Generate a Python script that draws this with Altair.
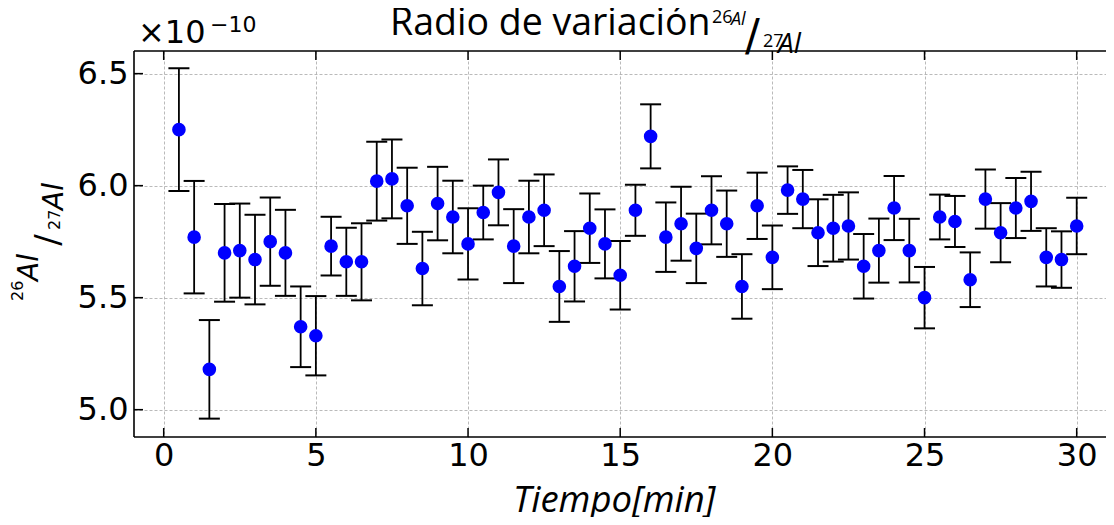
import altair as alt
import pandas as pd

# ---- data (ratio in units of 1e-10) ----
tiempo = [0.5, 1.0, 1.5, 2.0, 2.5, 3.0, 3.5, 4.0, 4.5, 5.0,
          5.5, 6.0, 6.5, 7.0, 7.5, 8.0, 8.5, 9.0, 9.5, 10.0,
          10.5, 11.0, 11.5, 12.0, 12.5, 13.0, 13.5, 14.0, 14.5, 15.0,
          15.5, 16.0, 16.5, 17.0, 17.5, 18.0, 18.5, 19.0, 19.5, 20.0,
          20.5, 21.0, 21.5, 22.0, 22.5, 23.0, 23.5, 24.0, 24.5, 25.0,
          25.5, 26.0, 26.5, 27.0, 27.5, 28.0, 28.5, 29.0, 29.5, 30.0]
ratio = [6.25, 5.77, 5.18, 5.70, 5.71, 5.67, 5.75, 5.70, 5.37, 5.33,
         5.73, 5.66, 5.66, 6.02, 6.03, 5.91, 5.63, 5.92, 5.86, 5.74,
         5.88, 5.97, 5.73, 5.86, 5.89, 5.55, 5.64, 5.81, 5.74, 5.60,
         5.89, 6.22, 5.77, 5.83, 5.72, 5.89, 5.83, 5.55, 5.91, 5.68,
         5.98, 5.94, 5.79, 5.81, 5.82, 5.64, 5.71, 5.90, 5.71, 5.50,
         5.86, 5.84, 5.58, 5.94, 5.79, 5.90, 5.93, 5.68, 5.67, 5.82]
error = [0.274, 0.251, 0.220, 0.218, 0.210, 0.200, 0.197, 0.192, 0.180, 0.177,
         0.131, 0.152, 0.172, 0.176, 0.176, 0.170, 0.164, 0.164, 0.162, 0.159,
         0.120, 0.147, 0.165, 0.162, 0.160, 0.158, 0.157, 0.155, 0.154, 0.153,
         0.114, 0.143, 0.155, 0.165, 0.155, 0.152, 0.148, 0.144, 0.148, 0.142,
         0.106, 0.130, 0.149, 0.149, 0.150, 0.144, 0.143, 0.143, 0.142, 0.137,
         0.100, 0.114, 0.122, 0.132, 0.132, 0.134, 0.132, 0.130, 0.126, 0.126]

x_ticks = [0, 5, 10, 15, 20, 25, 30]
y_ticks = [5.0, 5.5, 6.0, 6.5]

df = pd.DataFrame({"t": tiempo, "r": ratio, "e": error})
df["lo"] = df["r"] - df["e"]
df["hi"] = df["r"] + df["e"]

W, H = 972, 386
X_DOMAIN = [-0.976, 30.963]
Y_DOMAIN = [4.878, 6.601]

xs = alt.Scale(domain=X_DOMAIN, nice=False, zero=False)
ys = alt.Scale(domain=Y_DOMAIN, nice=False, zero=False)

TICKFONT = "DejaVu Sans"
GRID = dict(grid=True, gridColor="#a8a8a8", gridDash=[3, 2], gridWidth=0.8,
            ticks=False, domain=False, labelFont=TICKFONT, labelFontSize=32,
            labelColor="black", title=None)

x_enc = alt.X("t:Q", scale=xs,
              axis=alt.Axis(values=x_ticks, labelPadding=3, format="d", **GRID))
y_enc = alt.Y("lo:Q", scale=ys,
              axis=alt.Axis(values=y_ticks, labelPadding=6, format=".1f", **GRID))

base = alt.Chart(df)

bars = base.mark_rule(color="black", strokeWidth=1.8).encode(
    x=x_enc, y=y_enc, y2="hi:Q")
caps_lo = base.mark_rule(color="black", strokeWidth=2, xOffset=-10.5, x2Offset=10.5).encode(
    x=alt.X("t:Q", scale=xs), x2="t:Q", y=alt.Y("lo:Q", scale=ys))
caps_hi = base.mark_rule(color="black", strokeWidth=2, xOffset=-10.5, x2Offset=10.5).encode(
    x=alt.X("t:Q", scale=xs), x2="t:Q", y=alt.Y("hi:Q", scale=ys))
points = base.mark_circle(size=185, color="#0000ff", opacity=1).encode(
    x=alt.X("t:Q", scale=xs), y=alt.Y("r:Q", scale=ys))

# frame (spines) and inward ticks
one = pd.DataFrame({"k": [0]})
frame_top = alt.Chart(one).mark_rule(color="black", strokeWidth=1.6).encode(
    x=alt.value(0), x2=alt.value(W), y=alt.value(0))
frame_bottom = alt.Chart(one).mark_rule(color="black", strokeWidth=1.6).encode(
    x=alt.value(0), x2=alt.value(W), y=alt.value(H))
frame_left = alt.Chart(one).mark_rule(color="black", strokeWidth=1.6).encode(
    x=alt.value(0), y=alt.value(0), y2=alt.value(H))

xt = pd.DataFrame({"v": x_ticks})
yt = pd.DataFrame({"v": y_ticks})
tick_bottom = alt.Chart(xt).mark_rule(color="black", strokeWidth=1.5).encode(
    x=alt.X("v:Q", scale=xs), y=alt.value(H), y2=alt.value(H - 9))
tick_top = alt.Chart(xt).mark_rule(color="black", strokeWidth=1.5).encode(
    x=alt.X("v:Q", scale=xs), y=alt.value(0), y2=alt.value(9))
tick_left = alt.Chart(yt).mark_rule(color="black", strokeWidth=1.5).encode(
    y=alt.Y("v:Q", scale=ys), x=alt.value(0), x2=alt.value(9))


def txt(s, x, y, size, font="Open Sans", style="normal", angle=0, align="left",
        baseline="alphabetic"):
    kw = dict(text=s, font=font, fontSize=size, fontStyle=style, align=align,
              baseline=baseline, color="black")
    if angle:
        kw["angle"] = angle
    return alt.Chart(one).mark_text(**kw).encode(x=alt.value(x), y=alt.value(y))


texts = [
    # title
    txt("Radio de variación", 256, -16, 37.5),
    txt("26", 578, -28, 18),
    txt("Al", 597, -26, 18, style="italic"),
    txt("/", 611, 0, 44, font="DejaVu Sans"),
    txt("27", 629, -4, 18),
    txt("Al", 644, 2, 28, style="italic"),
    # offset text
    txt("×10", 4, -8, 32, font=TICKFONT),
    txt("−10", 76, -19, 22, font=TICKFONT),
    # x label
    txt("Tiempo[min]", 379, 461, 36.5, style="italic"),
    # y label (rotated)
    txt("26", -111, 250, 16, font=TICKFONT, angle=270),
    txt("Al", -96, 230, 28, font=TICKFONT, style="italic", angle=270),
    txt("/", -75, 189, 34, font=TICKFONT, angle=270, align="center"),
    txt("27", -74, 179, 16, font=TICKFONT, angle=270),
    txt("Al", -71, 159, 28, font=TICKFONT, style="italic", angle=270),
]

chart = alt.layer(
    bars, caps_lo, caps_hi, points,
    frame_top, frame_bottom, frame_left, tick_bottom, tick_top, tick_left,
    *texts
).properties(
    width=W, height=H,
    padding={"left": 126, "top": 43, "right": 0, "bottom": 80},
    autosize=alt.AutoSizeParams(type="none"),
).configure_view(stroke=None)

chart.save("out.html", embed_options={"renderer": "svg", "actions": False})
